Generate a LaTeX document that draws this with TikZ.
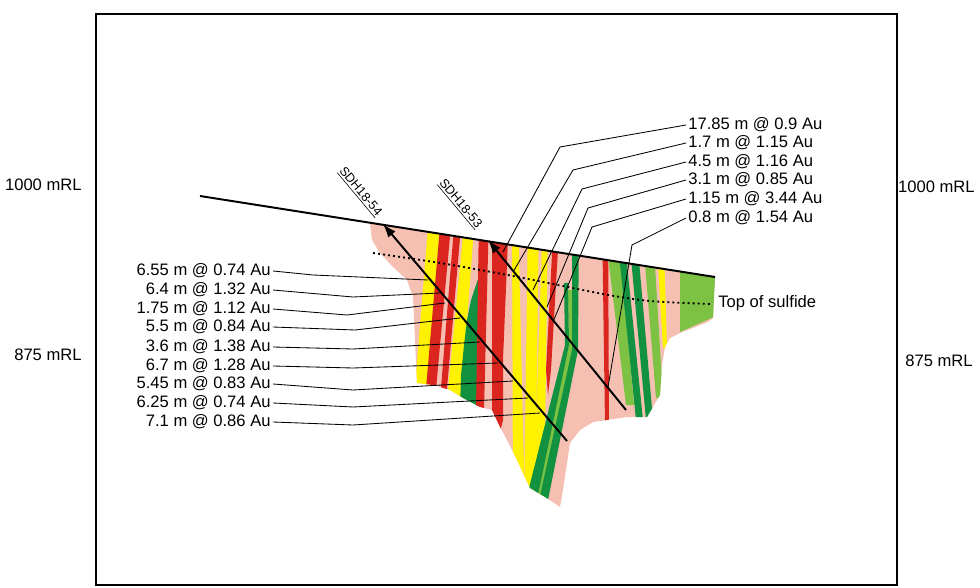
\documentclass[tikz,border=0pt]{standalone}
\usepackage{fontspec}
\setmainfont{Liberation Sans}
\usetikzlibrary{arrows.meta,positioning}

\definecolor{rockpink}{RGB}{245,192,178}
\definecolor{oreyellow}{RGB}{255,242,0}
\definecolor{orered}{RGB}{218,38,30}
\definecolor{dkgreen}{RGB}{18,146,64}
\definecolor{ltgreen}{RGB}{126,194,68}

% outline of the mineralised body
\newcommand{\orebody}{(370,223) -- (715,277) -- (713,318) -- (708,322)
  -- (680,333) -- (670,338) -- (665,347) -- (662,365) -- (660,395)
  -- (653,407) -- (647,417) -- (627,417) -- (607,420) -- (593,422)
  -- (580,430) -- (570,443) -- (563,490) -- (560,507) -- (545,497)
  -- (530,488) -- (517,460) -- (507,440) -- (500,427) -- (492,410)
  -- (480,407) -- (463,398) -- (450,390) -- (433,385) -- (417,383)
  -- (415,340) -- (413,297) -- (407,280) -- (393,267) -- (380,253)
  -- (372,240) -- cycle}

\begin{document}
\begin{tikzpicture}[x=0.25mm,y=-0.25mm,
    lbl/.style={font=\fontsize{11.8}{13}\selectfont,inner sep=1.5pt},
    holelbl/.style={font=\fontsize{9}{10}\selectfont,inner sep=1pt},
    leader/.style={line width=0.6pt},
    hole/.style={line width=1.4pt,-{Latex[length=3.4mm,width=2.4mm]}},
    sulfide/.style={line width=1.3pt,dash pattern=on 1.4pt off 2.2pt}]

    \useasboundingbox (0,0) rectangle (980,588);

    % frame and levels
    \draw[line width=2pt] (96,14) rectangle (897,585);
    \node[lbl,anchor=east] (lv1) at (84,185) {1000 mRL};
    \node[lbl,anchor=east] (lv2) at (84,355) {875 mRL};
    \node[lbl,anchor=east] (lv3) at (977,187) {1000 mRL};
    \node[lbl,anchor=east] (lv4) at (975,361) {875 mRL};

    % the section
    \fill[rockpink] \orebody;
    \begin{scope}
      \clip \orebody;
      \fill[oreyellow] (429,215) -- (443,215) -- (430,400) -- (414,400) -- cycle;
      \fill[orered] (441,215) -- (452,215) -- (435,400) -- (425,400) -- cycle;
      \fill[orered] (455,215) -- (462,215) -- (446,400) -- (440,400) -- cycle;
      \fill[oreyellow] (465,215) -- (475,215) -- (461,400) -- (447,400) -- cycle;
      \fill[dkgreen] (479,276) -- (476,285) -- (471,300) -- (467,320) -- (464,345)
        -- (461,375) -- (460,410) -- (478,410) -- (479,300) -- cycle;
      \fill[orered] (479,215) -- (489,215) -- (484,410) -- (476,410) -- cycle;
      \fill[orered] (492,215) -- (509,215) -- (503,360) -- (503,420) -- (500,432)
        -- (492,415) -- cycle;
      \fill[oreyellow] (512,215) -- (518,215) -- (525,510) -- (513,510) -- cycle;
      \fill[oreyellow] (528,215) -- (539,215) -- (535,510) -- (524,510) -- cycle;
      \fill[oreyellow] (543,215) -- (548,215) -- (544,510) -- (533,510) -- cycle;
      \fill[orered] (554,215) -- (560,215) -- (551,370) -- (548,395) -- (546,370) -- cycle;
      \fill[ltgreen] (568,290) -- (573,290) -- (573,350) -- (540,500) -- (534,500)
        -- (569,345) -- cycle;
      \fill[dkgreen] (564,283) -- (568,283) -- (569,345) -- (537,500) -- (526,500)
        -- (565,345) -- cycle;
      \fill[dkgreen] (572,215) -- (579,215) -- (578,350) -- (547,505) -- (538,505)
        -- (572,350) -- cycle;
      \fill[ltgreen] (603,215) -- (617,215) -- (634,405) -- (626,405) -- cycle;
      \fill[orered] (602,215) -- (608,215) -- (609,425) -- (605,425) -- cycle;
      \fill[dkgreen] (615,215) -- (622,215) -- (643,420) -- (636,420) -- cycle;
      \fill[dkgreen] (627,215) -- (635,215) -- (653,420) -- (646,420) -- cycle;
      \fill[ltgreen] (641,215) -- (652,215) -- (663,398) -- (656,398) -- cycle;
      \fill[oreyellow] (655,215) -- (663,215) -- (667,348) -- (663,348) -- cycle;
      \fill[ltgreen] (680,215) -- (716,215) -- (716,316) -- (680,332) -- cycle;
    \end{scope}

    % top of sulfide
    \draw[sulfide] plot[smooth] coordinates {(373,253) (440,263) (513,276)
      (603,294) (650,301) (710,304)};
    \node[lbl,anchor=west] (tos) at (716,303) {Top of sulfide};

    % surface
    \draw[line width=1.4pt] (200,196) -- (715,277);

    % drill holes
    \coordinate (h54a) at (567,441);
    \coordinate (h54b) at (383,224);
    \coordinate (h53a) at (626,410);
    \coordinate (h53b) at (488,240);
    \draw[hole] (h54a) -- (h54b);
    \draw[hole] (h53a) -- (h53b);
    \node[holelbl,rotate=-50] (t54) at (360,192) {\underline{SDH18-54}};
    \node[holelbl,rotate=-50] (t53) at (460,204) {\underline{SDH18-53}};

    % intercepts SDH18-53
    \node[lbl,anchor=west] (r1) at (686,125) {17.85 m @ 0.9 Au};
    \node[lbl,anchor=west] (r2) at (686,143) {1.7 m @ 1.15 Au};
    \node[lbl,anchor=west] (r3) at (686,162) {4.5 m @ 1.16 Au};
    \node[lbl,anchor=west] (r4) at (686,180) {3.1 m @ 0.85 Au};
    \node[lbl,anchor=west] (r5) at (686,199) {1.15 m @ 3.44 Au};
    \node[lbl,anchor=west] (r6) at (686,218) {0.8 m @ 1.54 Au};
    \coordinate (e1) at (503,252);
    \coordinate (e2) at (513,272);
    \coordinate (e3) at (533,290);
    \coordinate (e4) at (547,307);
    \coordinate (e5) at (553,322);
    \coordinate (e6) at (608,387);
    \draw[leader] (r1.west) -- (560,147) -- (e1);
    \draw[leader] (r2.west) -- (573,170) -- (e2);
    \draw[leader] (r3.west) -- (582,189) -- (e3);
    \draw[leader] (r4.west) -- (588,208) -- (e4);
    \draw[leader] (r5.west) -- (592,227) -- (e5);
    \draw[leader] (r6.west) -- (632,245) -- (e6);

    % intercepts SDH18-54
    \node[lbl,anchor=east] (l1) at (273,271) {6.55 m @ 0.74 Au};
    \node[lbl,anchor=east] (l2) at (273,290) {6.4 m @ 1.32 Au};
    \node[lbl,anchor=east] (l3) at (273,309) {1.75 m @ 1.12 Au};
    \node[lbl,anchor=east] (l4) at (273,327) {5.5 m @ 0.84 Au};
    \node[lbl,anchor=east] (l5) at (273,347) {3.6 m @ 1.38 Au};
    \node[lbl,anchor=east] (l6) at (273,366) {6.7 m @ 1.28 Au};
    \node[lbl,anchor=east] (l7) at (273,384) {5.45 m @ 0.83 Au};
    \node[lbl,anchor=east] (l8) at (273,403) {6.25 m @ 0.74 Au};
    \node[lbl,anchor=east] (l9) at (273,422) {7.1 m @ 0.86 Au};
    \coordinate (f1) at (428,280);
    \coordinate (f2) at (440,293);
    \coordinate (f3) at (445,303);
    \coordinate (f4) at (460,318);
    \coordinate (f5) at (480,342);
    \coordinate (f6) at (498,363);
    \coordinate (f7) at (513,381);
    \coordinate (f8) at (528,398);
    \coordinate (f9) at (540,413);
    \draw[leader] (l1.east) -- (313,275) -- (f1);
    \draw[leader] (l2.east) -- (353,297) -- (f2);
    \draw[leader] (l3.east) -- (347,315) -- (f3);
    \draw[leader] (l4.east) -- (355,330) -- (f4);
    \draw[leader] (l5.east) -- (353,349) -- (f5);
    \draw[leader] (l6.east) -- (353,368) -- (f6);
    \draw[leader] (l7.east) -- (353,390) -- (f7);
    \draw[leader] (l8.east) -- (353,407) -- (f8);
    \draw[leader] (l9.east) -- (353,425) -- (f9);

  \end{tikzpicture}
\end{document}
